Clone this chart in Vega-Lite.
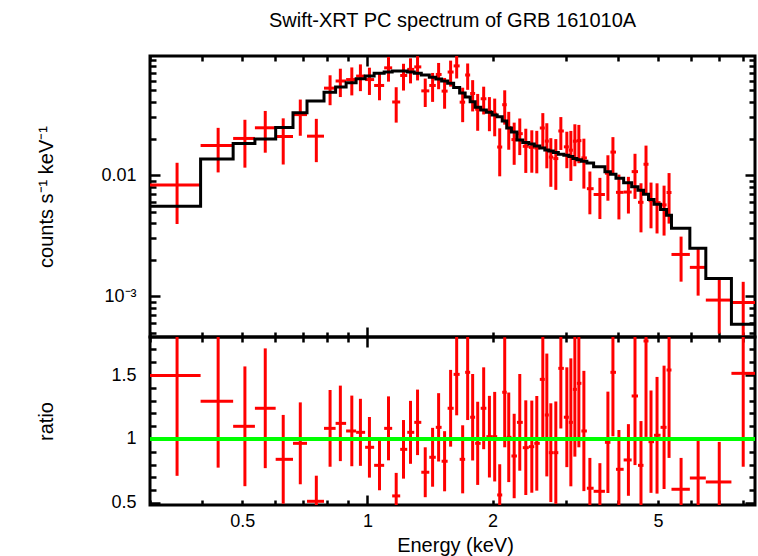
{
  "$schema": "https://vega.github.io/schema/vega-lite/v6.json",
  "background": "white",
  "padding": {"left": 34, "top": 9, "right": 2, "bottom": 2},
  "spacing": 0,
  "bounds": "flush",
  "config": {
    "font": "Liberation Sans",
    "view": {"stroke": "black", "strokeWidth": 3},
    "axis": {
      "domain": false, "grid": false, "tickColor": "black", "tickWidth": 2.5,
      "labelColor": "black", "labelFont": "Liberation Sans", "labelFontSize": 18,
      "labelOverlap": false, "labelFlush": false, "labelBound": false,
      "titleFont": "Liberation Sans", "titleFontSize": 20, "titleFontWeight": "normal", "titleColor": "black"
    }
  },
  "datasets": {
    "bins": [
      {"e":0.3485,"lo":0.300,"hi":0.397,"y":0.00830,"ylo":0.00395,"yhi":0.01265,"r":1.497,"rlo":0.712,"rhi":2.282},
      {"e":0.4375,"lo":0.397,"hi":0.4754,"y":0.01755,"ylo":0.01053,"yhi":0.02457,"r":1.294,"rlo":0.776,"rhi":1.812},
      {"e":0.5074,"lo":0.4754,"hi":0.5363,"y":0.02009,"ylo":0.01153,"yhi":0.02865,"r":1.099,"rlo":0.631,"rhi":1.567},
      {"e":0.5679,"lo":0.5363,"hi":0.6016,"y":0.0246,"ylo":0.01532,"yhi":0.03388,"r":1.24,"rlo":0.772,"rhi":1.708},
      {"e":0.6273,"lo":0.6016,"hi":0.6622,"y":0.02084,"ylo":0.01224,"yhi":0.02944,"r":0.841,"rlo":0.494,"rhi":1.188},
      {"e":0.6895,"lo":0.6622,"hi":0.7156,"y":0.03161,"ylo":0.02114,"yhi":0.04208,"r":0.966,"rlo":0.646,"rhi":1.286},
      {"e":0.7535,"lo":0.7156,"hi":0.7863,"y":0.02098,"ylo":0.0128,"yhi":0.02916,"r":0.513,"rlo":0.313,"rhi":0.713},
      {"e":0.8131,"lo":0.7863,"hi":0.8384,"y":0.05227,"ylo":0.03779,"yhi":0.06675,"r":1.083,"rlo":0.783,"rhi":1.383},
      {"e":0.8607,"lo":0.8384,"hi":0.8886,"y":0.05988,"ylo":0.04413,"yhi":0.07563,"r":1.122,"rlo":0.827,"rhi":1.417},
      {"e":0.9171,"lo":0.8886,"hi":0.9392,"y":0.06152,"ylo":0.04554,"yhi":0.0775,"r":1.0625,"rlo":0.787,"rhi":1.339},
      {"e":0.9619,"lo":0.9392,"hi":0.9873,"y":0.06574,"ylo":0.04937,"yhi":0.08211,"r":1.052,"rlo":0.79,"rhi":1.314},
      {"e":1.0111,"lo":0.9873,"hi":1.0378,"y":0.06152,"ylo":0.04592,"yhi":0.07712,"r":0.935,"rlo":0.698,"rhi":1.172},
      {"e":1.0689,"lo":1.0378,"hi":1.097,"y":0.055,"ylo":0.04149,"yhi":0.06851,"r":0.794,"rlo":0.599,"rhi":0.989},
      {"e":1.1236,"lo":1.097,"hi":1.1468,"y":0.07689,"ylo":0.05914,"yhi":0.09464,"r":1.083,"rlo":0.833,"rhi":1.333},
      {"e":1.1726,"lo":1.1468,"hi":1.1989,"y":0.04017,"ylo":0.02714,"yhi":0.0532,"r":0.555,"rlo":0.375,"rhi":0.735},
      {"e":1.221,"lo":1.1989,"hi":1.2465,"y":0.06651,"ylo":0.04994,"yhi":0.08308,"r":0.919,"rlo":0.69,"rhi":1.148},
      {"e":1.2694,"lo":1.2465,"hi":1.296,"y":0.07469,"ylo":0.05722,"yhi":0.09216,"r":1.052,"rlo":0.806,"rhi":1.298},
      {"e":1.3197,"lo":1.296,"hi":1.3474,"y":0.07827,"ylo":0.06054,"yhi":0.096,"r":1.13,"rlo":0.874,"rhi":1.386},
      {"e":1.3772,"lo":1.3474,"hi":1.4085,"y":0.04962,"ylo":0.03654,"yhi":0.0627,"r":0.74,"rlo":0.545,"rhi":0.935},
      {"e":1.4344,"lo":1.4085,"hi":1.46,"y":0.05501,"ylo":0.04025,"yhi":0.06977,"r":0.857,"rlo":0.627,"rhi":1.087},
      {"e":1.483,"lo":1.46,"hi":1.5078,"y":0.06779,"ylo":0.0512,"yhi":0.08438,"r":1.091,"rlo":0.824,"rhi":1.358},
      {"e":1.533,"lo":1.5078,"hi":1.559,"y":0.0494,"ylo":0.03535,"yhi":0.06345,"r":0.826,"rlo":0.591,"rhi":1.061},
      {"e":1.5849,"lo":1.559,"hi":1.6117,"y":0.07101,"ylo":0.05383,"yhi":0.08819,"r":1.24,"rlo":0.94,"rhi":1.54},
      {"e":1.639,"lo":1.6117,"hi":1.6663,"y":0.07977,"ylo":0.06281,"yhi":0.09673,"r":1.505,"rlo":1.185,"rhi":1.825},
      {"e":1.6943,"lo":1.6663,"hi":1.7178,"y":0.04005,"ylo":0.02738,"yhi":0.05272,"r":0.841,"rlo":0.575,"rhi":1.107},
      {"e":1.7418,"lo":1.7178,"hi":1.766,"y":0.06709,"ylo":0.05064,"yhi":0.08354,"r":1.521,"rlo":1.148,"rhi":1.894},
      {"e":1.7906,"lo":1.766,"hi":1.8155,"y":0.04721,"ylo":0.03357,"yhi":0.06085,"r":1.17,"rlo":0.832,"rhi":1.508},
      {"e":1.8412,"lo":1.8155,"hi":1.872,"y":0.03503,"ylo":0.02324,"yhi":0.04682,"r":0.966,"rlo":0.641,"rhi":1.291},
      {"e":1.9033,"lo":1.872,"hi":1.932,"y":0.04272,"ylo":0.0317,"yhi":0.05374,"r":1.24,"rlo":0.92,"rhi":1.56},
      {"e":1.9648,"lo":1.932,"hi":1.9943,"y":0.03357,"ylo":0.02305,"yhi":0.04409,"r":1.018,"rlo":0.699,"rhi":1.337},
      {"e":2.023,"lo":1.9943,"hi":2.0512,"y":0.03189,"ylo":0.02093,"yhi":0.04285,"r":1.018,"rlo":0.668,"rhi":1.368},
      {"e":2.0801,"lo":2.0512,"hi":2.1091,"y":0.01706,"ylo":0.00978,"yhi":0.02434,"r":0.5625,"rlo":0.3225,"rhi":0.8025},
      {"e":2.1385,"lo":2.1091,"hi":2.1623,"y":0.03814,"ylo":0.02612,"yhi":0.05016,"r":1.365,"rlo":0.935,"rhi":1.795},
      {"e":2.1867,"lo":2.1623,"hi":2.2197,"y":0.02477,"ylo":0.01621,"yhi":0.03333,"r":1.013,"rlo":0.663,"rhi":1.363},
      {"e":2.2535,"lo":2.2197,"hi":2.2883,"y":0.01965,"ylo":0.01217,"yhi":0.02713,"r":0.867,"rlo":0.537,"rhi":1.197},
      {"e":2.3244,"lo":2.2883,"hi":2.3632,"y":0.022,"ylo":0.01464,"yhi":0.02936,"r":1.13,"rlo":0.752,"rhi":1.508},
      {"e":2.4032,"lo":2.3632,"hi":2.4434,"y":0.0173,"ylo":0.01043,"yhi":0.02417,"r":0.932,"rlo":0.562,"rhi":1.302},
      {"e":2.4846,"lo":2.4434,"hi":2.5189,"y":0.01696,"ylo":0.01047,"yhi":0.02345,"r":0.94,"rlo":0.58,"rhi":1.3},
      {"e":2.5542,"lo":2.5189,"hi":2.597,"y":0.01678,"ylo":0.01035,"yhi":0.02321,"r":0.966,"rlo":0.596,"rhi":1.336},
      {"e":2.6408,"lo":2.597,"hi":2.67,"y":0.0245,"ylo":0.01648,"yhi":0.03252,"r":1.466,"rlo":0.986,"rhi":1.946},
      {"e":2.7,"lo":2.67,"hi":2.7298,"y":0.01911,"ylo":0.01139,"yhi":0.02683,"r":1.1875,"rlo":0.7075,"rhi":1.6675},
      {"e":2.7605,"lo":2.7298,"hi":2.799,"y":0.0141,"ylo":0.00801,"yhi":0.02019,"r":0.893,"rlo":0.507,"rhi":1.279},
      {"e":2.8379,"lo":2.799,"hi":2.8774,"y":0.0137,"ylo":0.00756,"yhi":0.01984,"r":0.893,"rlo":0.493,"rhi":1.293},
      {"e":2.918,"lo":2.8774,"hi":2.9667,"y":0.02315,"ylo":0.01614,"yhi":0.03016,"r":1.552,"rlo":1.082,"rhi":2.022},
      {"e":3.0164,"lo":2.9667,"hi":3.05,"y":0.01712,"ylo":0.01141,"yhi":0.02283,"r":1.17,"rlo":0.78,"rhi":1.56},
      {"e":3.0843,"lo":3.05,"hi":3.1189,"y":0.01607,"ylo":0.00896,"yhi":0.02318,"r":1.13,"rlo":0.63,"rhi":1.63},
      {"e":3.1535,"lo":3.1189,"hi":3.1886,"y":0.01907,"ylo":0.01184,"yhi":0.0263,"r":1.388,"rlo":0.862,"rhi":1.914},
      {"e":3.2241,"lo":3.1886,"hi":3.2696,"y":0.01927,"ylo":0.01255,"yhi":0.02599,"r":1.435,"rlo":0.935,"rhi":1.935},
      {"e":3.315,"lo":3.2696,"hi":3.3704,"y":0.01387,"ylo":0.00774,"yhi":0.02,"r":1.0625,"rlo":0.5925,"rhi":1.5325},
      {"e":3.4268,"lo":3.3704,"hi":3.4986,"y":0.00773,"ylo":0.00475,"yhi":0.01071,"r":0.615,"rlo":0.378,"rhi":0.852},
      {"e":3.6224,"lo":3.4986,"hi":3.7247,"y":0.00692,"ylo":0.00434,"yhi":0.0095,"r":0.591,"rlo":0.371,"rhi":0.811},
      {"e":3.7866,"lo":3.7247,"hi":3.8398,"y":0.01037,"ylo":0.00615,"yhi":0.01459,"r":0.974,"rlo":0.578,"rhi":1.37},
      {"e":3.8935,"lo":3.8398,"hi":3.9593,"y":0.0155,"ylo":0.0104,"yhi":0.0206,"r":1.521,"rlo":1.021,"rhi":2.021},
      {"e":4.0246,"lo":3.9593,"hi":4.1314,"y":0.00721,"ylo":0.00431,"yhi":0.01011,"r":0.763,"rlo":0.456,"rhi":1.07},
      {"e":4.242,"lo":4.1314,"hi":4.319,"y":0.00725,"ylo":0.00482,"yhi":0.00968,"r":0.836,"rlo":0.556,"rhi":1.116},
      {"e":4.3994,"lo":4.319,"hi":4.4728,"y":0.01069,"ylo":0.00637,"yhi":0.01501,"r":1.336,"rlo":0.796,"rhi":1.876},
      {"e":4.5477,"lo":4.4728,"hi":4.6119,"y":0.00597,"ylo":0.00337,"yhi":0.00857,"r":0.794,"rlo":0.448,"rhi":1.14},
      {"e":4.6761,"lo":4.6119,"hi":4.7413,"y":0.0123,"ylo":0.00707,"yhi":0.01753,"r":1.766,"rlo":1.016,"rhi":2.516},
      {"e":4.8072,"lo":4.7413,"hi":4.8888,"y":0.00616,"ylo":0.00364,"yhi":0.00868,"r":0.979,"rlo":0.579,"rhi":1.379},
      {"e":4.9704,"lo":4.8888,"hi":5.0678,"y":0.00593,"ylo":0.0033,"yhi":0.00856,"r":1.029,"rlo":0.573,"rhi":1.485},
      {"e":5.1677,"lo":5.0678,"hi":5.2396,"y":0.00568,"ylo":0.00317,"yhi":0.00819,"r":1.091,"rlo":0.609,"rhi":1.573},
      {"e":5.3125,"lo":5.2396,"hi":5.3841,"y":0.00719,"ylo":0.00398,"yhi":0.0104,"r":1.539,"rlo":0.852,"rhi":2.226},
      {"e":5.678,"lo":5.3841,"hi":5.9607,"y":0.002214,"ylo":0.00132,"yhi":0.003108,"r":0.607,"rlo":0.362,"rhi":0.852},
      {"e":6.2403,"lo":5.9607,"hi":6.5117,"y":0.001732,"ylo":0.001012,"yhi":0.002452,"r":0.695,"rlo":0.406,"rhi":0.984},
      {"e":7.0146,"lo":6.5117,"hi":7.5035,"y":0.00093,"ylo":0.000492,"yhi":0.001368,"r":0.664,"rlo":0.351,"rhi":0.977},
      {"e":8.0095,"lo":7.5035,"hi":8.595,"y":0.000888,"ylo":0.00046,"yhi":0.001316,"r":1.513,"rlo":0.783,"rhi":2.243}
    ],
    "model": [
      {"x":0.300,"m":0.005543},{"x":0.397,"m":0.01356},{"x":0.4754,"m":0.01828},{"x":0.5363,"m":0.01984},
      {"x":0.6016,"m":0.02478},{"x":0.6622,"m":0.03273},{"x":0.7156,"m":0.04089},{"x":0.7863,"m":0.04826},
      {"x":0.8384,"m":0.05337},{"x":0.8886,"m":0.0579},{"x":0.9392,"m":0.06249},{"x":0.9873,"m":0.0658},
      {"x":1.0378,"m":0.06927},{"x":1.097,"m":0.071},{"x":1.1468,"m":0.07237},{"x":1.1989,"m":0.07237},
      {"x":1.2465,"m":0.071},{"x":1.296,"m":0.06927},{"x":1.3474,"m":0.06706},{"x":1.4085,"m":0.06419},
      {"x":1.46,"m":0.06214},{"x":1.5078,"m":0.05981},{"x":1.559,"m":0.05726},{"x":1.6117,"m":0.053},
      {"x":1.6663,"m":0.04762},{"x":1.7178,"m":0.04411},{"x":1.766,"m":0.04035},{"x":1.8155,"m":0.03627},
      {"x":1.872,"m":0.03445},{"x":1.932,"m":0.03298},{"x":1.9943,"m":0.03132},{"x":2.0512,"m":0.03032},
      {"x":2.1091,"m":0.02794},{"x":2.1623,"m":0.02445},{"x":2.2197,"m":0.02266},{"x":2.2883,"m":0.01947},
      {"x":2.3632,"m":0.01856},{"x":2.4434,"m":0.01804},{"x":2.5189,"m":0.01737},{"x":2.597,"m":0.01672},
      {"x":2.67,"m":0.01609},{"x":2.7298,"m":0.01579},{"x":2.799,"m":0.01535},{"x":2.8774,"m":0.01491},
      {"x":2.9667,"m":0.01463},{"x":3.05,"m":0.01422},{"x":3.1189,"m":0.01374},{"x":3.1886,"m":0.01343},
      {"x":3.2696,"m":0.01305},{"x":3.3704,"m":0.01257},{"x":3.4986,"m":0.01171},{"x":3.7247,"m":0.01065},
      {"x":3.8398,"m":0.01019},{"x":3.9593,"m":0.009445},{"x":4.1314,"m":0.00867},{"x":4.319,"m":0.008003},
      {"x":4.4728,"m":0.007516},{"x":4.6119,"m":0.006966},{"x":4.7413,"m":0.006296},{"x":4.8888,"m":0.005758},
      {"x":5.0678,"m":0.005206},{"x":5.2396,"m":0.00467},{"x":5.3841,"m":0.003648},{"x":5.9607,"m":0.002492},
      {"x":6.5117,"m":0.0014},{"x":7.5035,"m":0.000587},{"x":8.595,"m":0.000587}
    ]
  },
  "vconcat": [
    {
      "width": 605,
      "height": 281,
      "title": {
        "text": "Swift-XRT PC spectrum of GRB 161010A",
        "anchor": "middle", "frame": "group", "font": "Liberation Sans",
        "fontSize": 20, "fontWeight": "normal", "color": "black",
        "baseline": "alphabetic", "offset": 8
      },
      "resolve": {"axis": {"x": "independent", "y": "independent"}},
      "layer": [
        {
          "data": {"name": "bins"},
          "mark": {"type": "rule", "color": "#ff0000", "strokeWidth": 3, "clip": true},
          "encoding": {
            "x": {"field": "lo", "type": "quantitative",
              "scale": {"type": "log", "domain": [0.3, 8.55], "nice": false},
              "axis": {"orient": "bottom", "values": [0.3,0.4,0.5,0.6,0.7,0.8,0.9,2,3,4,5,6,7,8], "tickSize": -5, "labels": false, "title": null}},
            "x2": {"field": "hi"},
            "y": {"field": "y", "type": "quantitative",
              "scale": {"type": "log", "domain": [0.000461, 0.0963], "nice": false},
              "axis": {"orient": "left", "values": [0.0005,0.0006,0.0007,0.0008,0.0009,0.002,0.003,0.004,0.005,0.006,0.007,0.008,0.009,0.02,0.03,0.04,0.05,0.06,0.07,0.08,0.09], "tickSize": -6, "labels": false,
                "title": "counts s⁻¹ keV⁻¹", "titleX": -98, "titleBaseline": "alphabetic"}}
          }
        },
        {
          "data": {"name": "bins"},
          "mark": {"type": "rule", "color": "#ff0000", "strokeWidth": 3, "clip": true},
          "encoding": {
            "x": {"field": "e", "type": "quantitative",
              "scale": {"type": "log", "domain": [0.3, 8.55], "nice": false},
              "axis": {"orient": "bottom", "values": [1], "tickSize": -10, "labels": false, "title": null}},
            "y": {"field": "ylo", "type": "quantitative",
              "scale": {"type": "log", "domain": [0.000461, 0.0963], "nice": false},
              "axis": {"orient": "left", "values": [0.001, 0.01], "tickSize": -10, "labelPadding": 24,
                "labelExpr": "datum.value < 0.005 ? '10⁻³' : '0.01'", "title": null}},
            "y2": {"field": "yhi"}
          }
        },
        {
          "data": {"name": "model"},
          "mark": {"type": "line", "color": "black", "strokeWidth": 3, "interpolate": "step-after", "clip": true},
          "encoding": {
            "x": {"field": "x", "type": "quantitative",
              "scale": {"type": "log", "domain": [0.3, 8.55], "nice": false},
              "axis": {"orient": "top", "values": [0.3,0.4,0.5,0.6,0.7,0.8,0.9,2,3,4,5,6,7,8], "tickSize": -5, "labels": false, "title": null}},
            "y": {"field": "m", "type": "quantitative",
              "scale": {"type": "log", "domain": [0.000461, 0.0963], "nice": false},
              "axis": {"orient": "right", "values": [0.0005,0.0006,0.0007,0.0008,0.0009,0.002,0.003,0.004,0.005,0.006,0.007,0.008,0.009,0.02,0.03,0.04,0.05,0.06,0.07,0.08,0.09], "tickSize": -6, "labels": false, "title": null}}
          }
        },
        {
          "data": {"name": "bins"},
          "mark": {"type": "point", "opacity": 0, "clip": true},
          "encoding": {
            "x": {"field": "e", "type": "quantitative",
              "scale": {"type": "log", "domain": [0.3, 8.55], "nice": false},
              "axis": {"orient": "top", "values": [1], "tickSize": -10, "labels": false, "title": null}},
            "y": {"field": "y", "type": "quantitative",
              "scale": {"type": "log", "domain": [0.000461, 0.0963], "nice": false},
              "axis": {"orient": "right", "values": [0.001, 0.01], "tickSize": -10, "labels": false, "title": null}}
          }
        }
      ]
    },
    {
      "width": 605,
      "height": 168,
      "data": {"name": "bins"},
      "resolve": {"axis": {"x": "independent", "y": "independent"}},
      "layer": [
        {
          "mark": {"type": "rule", "color": "#ff0000", "strokeWidth": 3, "clip": true},
          "encoding": {
            "x": {"field": "lo", "type": "quantitative",
              "scale": {"type": "log", "domain": [0.3, 8.55], "nice": false},
              "axis": {"orient": "bottom", "values": [0.3,0.4,0.5,0.6,0.7,0.8,0.9,2,3,4,5,6,7,8], "tickSize": -5, "labelPadding": 12.5,
                "format": "~g", "labelExpr": "indexof([0.5, 2, 5], datum.value) >= 0 ? datum.label : ''", "title": null}},
            "x2": {"field": "hi"},
            "y": {"field": "r", "type": "quantitative",
              "scale": {"domain": [0.484, 1.797], "nice": false, "zero": false},
              "axis": {"orient": "left", "values": [0.6,0.7,0.8,0.9,1.1,1.2,1.3,1.4,1.6,1.7], "tickSize": -6, "labels": false,
                "title": "ratio", "titleX": -98, "titleBaseline": "alphabetic"}}
          }
        },
        {
          "mark": {"type": "rule", "color": "#ff0000", "strokeWidth": 3, "clip": true},
          "encoding": {
            "x": {"field": "e", "type": "quantitative",
              "scale": {"type": "log", "domain": [0.3, 8.55], "nice": false},
              "axis": {"orient": "bottom", "values": [1], "tickSize": -10, "labelPadding": 17.5, "format": "~g",
                "title": "Energy (keV)", "titleX": 305, "titleY": 46, "titleBaseline": "alphabetic"}},
            "y": {"field": "rlo", "type": "quantitative",
              "scale": {"domain": [0.484, 1.797], "nice": false, "zero": false},
              "axis": {"orient": "left", "values": [0.5, 1, 1.5], "tickSize": -10, "labelPadding": 24, "format": "~g", "title": null}},
            "y2": {"field": "rhi"}
          }
        },
        {
          "mark": {"type": "point", "opacity": 0, "clip": true},
          "encoding": {
            "x": {"field": "e", "type": "quantitative",
              "scale": {"type": "log", "domain": [0.3, 8.55], "nice": false},
              "axis": {"orient": "top", "values": [0.3,0.4,0.5,0.6,0.7,0.8,0.9,2,3,4,5,6,7,8], "tickSize": -5, "labels": false, "title": null}},
            "y": {"field": "r", "type": "quantitative",
              "scale": {"domain": [0.484, 1.797], "nice": false, "zero": false},
              "axis": {"orient": "right", "values": [0.6,0.7,0.8,0.9,1.1,1.2,1.3,1.4,1.6,1.7], "tickSize": -6, "labels": false, "title": null}}
          }
        },
        {
          "mark": {"type": "point", "opacity": 0, "clip": true},
          "encoding": {
            "x": {"field": "e", "type": "quantitative",
              "scale": {"type": "log", "domain": [0.3, 8.55], "nice": false},
              "axis": {"orient": "top", "values": [1], "tickSize": -10, "labels": false, "title": null}},
            "y": {"field": "r", "type": "quantitative",
              "scale": {"domain": [0.484, 1.797], "nice": false, "zero": false},
              "axis": {"orient": "right", "values": [0.5, 1, 1.5], "tickSize": -10, "labels": false, "title": null}}
          }
        },
        {
          "mark": {"type": "rule", "color": "#00ff00", "strokeWidth": 3},
          "encoding": {
            "y": {"datum": 1, "type": "quantitative", "axis": null}
          }
        }
      ]
    }
  ]
}
